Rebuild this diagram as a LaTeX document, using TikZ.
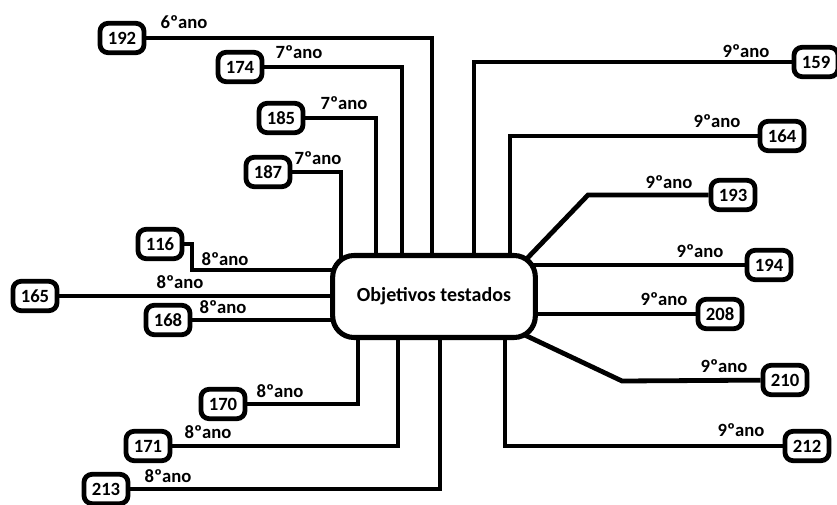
\documentclass[tikz,border=0pt]{standalone}
\usepackage{fontspec}
\setmainfont{Carlito}
\usetikzlibrary{positioning,backgrounds}
\tikzset{
  hub/.style  = {rectangle, rounded corners=16pt, draw=black, line width=3.8pt, fill=white,
                 minimum width=152pt, minimum height=61.5pt, align=center,
                 font=\fontsize{15}{17}\selectfont\bfseries},
  code/.style = {rectangle, rounded corners=6pt, draw=black, line width=3.6pt, fill=white,
                 minimum width=33pt, minimum height=22pt, inner sep=1pt,
                 font=\fontsize{14}{16}\selectfont\bfseries},
  link/.style = {line width=3.6pt, draw=black},
  lbl/.style  = {font=\fontsize{14}{16}\selectfont\bfseries, inner sep=0pt},
}

\begin{document}
\begin{tikzpicture}[x=0.75pt, y=-0.75pt]
  \useasboundingbox (0,0) rectangle (837,505);
  \node[hub] (obj) at (434,296.5) {Objetivos testados};

  % upper left
  \node[code] (n192) at (122,38)  {192};
  \node[code] (n174) at (240,67)  {174};
  \node[code] (n185) at (281,118) {185};
  \node[code] (n187) at (268,172) {187};
  \node[lbl] (l192) at (184,22)  {6ºano};
  \node[lbl] (l174) at (299,52)  {7ºano};
  \node[lbl] (l185) at (344,103) {7ºano};
  \node[lbl] (l187) at (318,158) {7ºano};

  % left
  \node[code] (n116) at (160,244) {116};
  \node[code] (n165) at (35,296)  {165};
  \node[code] (n168) at (168,320) {168};
  \node[lbl] (l116) at (225,259) {8ºano};
  \node[lbl] (l165) at (180,282) {8ºano};
  \node[lbl] (l168) at (223,307) {8ºano};

  % lower left
  \node[code] (n170) at (223,404) {170};
  \node[code] (n171) at (148,446) {171};
  \node[code] (n213) at (106,489) {213};
  \node[lbl] (l170) at (280,391) {8ºano};
  \node[lbl] (l171) at (208,432) {8ºano};
  \node[lbl] (l213) at (168,476) {8ºano};

  % right
  \node[code] (n159) at (816,62)  {159};
  \node[code] (n164) at (782,136) {164};
  \node[code] (n193) at (733,195) {193};
  \node[code] (n194) at (769,265) {194};
  \node[code] (n208) at (720,314) {208};
  \node[code] (n210) at (785,380) {210};
  \node[code] (n212) at (807,446) {212};
  \node[lbl] (l159) at (746,51)  {9ºano};
  \node[lbl] (l164) at (717,121) {9ºano};
  \node[lbl] (l193) at (669,182) {9ºano};
  \node[lbl] (l194) at (700,251) {9ºano};
  \node[lbl] (l208) at (664,299) {9ºano};
  \node[lbl] (l210) at (724,366) {9ºano};
  \node[lbl] (l212) at (741,430) {9ºano};

  \coordinate (x192) at (432,0);
  \coordinate (x174) at (402,0);
  \coordinate (x185) at (376,0);
  \coordinate (x187) at (341,0);
  \coordinate (b116) at (192,270);
  \coordinate (x170) at (358,0);
  \coordinate (x171) at (398,0);
  \coordinate (x213) at (440,0);
  \coordinate (x159) at (474,0);
  \coordinate (x164) at (510,0);
  \coordinate (k193) at (588,195);
  \coordinate (e193) at (515,271);
  \coordinate (k210) at (622,381);
  \coordinate (e210) at (512,329);
  \coordinate (x212) at (505,0);

  \begin{scope}[on background layer]
    \draw[link] (n192) -| (x192 |- obj.center);
    \draw[link] (n174) -| (x174 |- obj.center);
    \draw[link] (n185) -| (x185 |- obj.center);
    \draw[link] (n187) -| (x187 |- obj.center);
    \draw[link] (n116) -| (b116) -- (b116 -| obj.center);
    \draw[link] (n165) -- (n165 -| obj.center);
    \draw[link] (n168) -- (n168 -| obj.center);
    \draw[link] (n170) -| (x170 |- obj.center);
    \draw[link] (n171) -| (x171 |- obj.center);
    \draw[link] (n213) -| (x213 |- obj.center);
    \draw[link] (n159) -| (x159 |- obj.center);
    \draw[link] (n164) -| (x164 |- obj.center);
    \draw[link] (n193) -- (k193) -- (e193);
    \draw[link] (n194) -- (n194 -| obj.center);
    \draw[link] (n208) -- (n208 -| obj.center);
    \draw[link] (n210) -- (k210) -- (e210);
    \draw[link] (n212) -| (x212 |- obj.center);
  \end{scope}
\end{tikzpicture}
\end{document}
